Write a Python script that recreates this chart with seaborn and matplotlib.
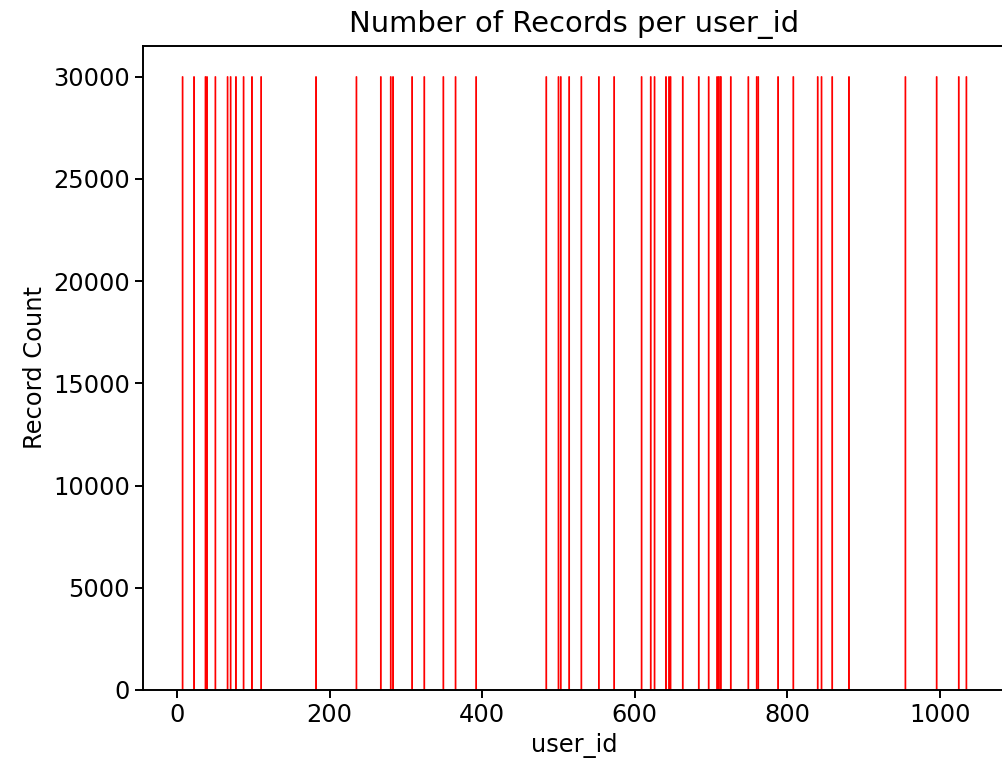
import pandas as pd
import matplotlib
matplotlib.use("Agg")
import matplotlib.pyplot as plt
import seaborn as sns

# user ids that appear in the data, each with the same number of records
user_ids = [7, 22, 37, 39, 50, 66, 70, 77, 87, 98, 110, 182, 235, 267, 280, 283,
            308, 324, 349, 365, 392, 484, 500, 503, 514, 530, 553, 573, 609, 621,
            626, 641, 645, 647, 663, 684, 697, 708, 710, 712, 713, 726, 749, 760,
            762, 788, 808, 840, 845, 859, 881, 955, 996, 1025, 1035]
record_counts = [30000] * len(user_ids)

df = pd.DataFrame({"user_id": user_ids, "count": record_counts})

fig, ax = plt.subplots(figsize=(10.02, 7.64), dpi=100)
fig.subplots_adjust(left=0.1427, right=1.004, top=0.9398, bottom=0.0969)

sns.barplot(data=df, x="user_id", y="count", native_scale=True, color="red",
            saturation=1, width=1.0, errorbar=None, ax=ax)
for p in ax.patches:
    p.set_facecolor("red")
    p.set_edgecolor("red")
    p.set_linewidth(0.7)
    p.set_snap(False)

fs = 17.4
ax.set_title("Number of Records per user_id", fontsize=20.9, pad=10)
ax.set_xlabel("user_id", fontsize=fs)
ax.set_ylabel("Record Count", fontsize=fs)
ax.tick_params(labelsize=fs, length=6, width=1.4)
for s in ax.spines.values():
    s.set_linewidth(1.4)

plt.savefig("out.png", dpi=100)
